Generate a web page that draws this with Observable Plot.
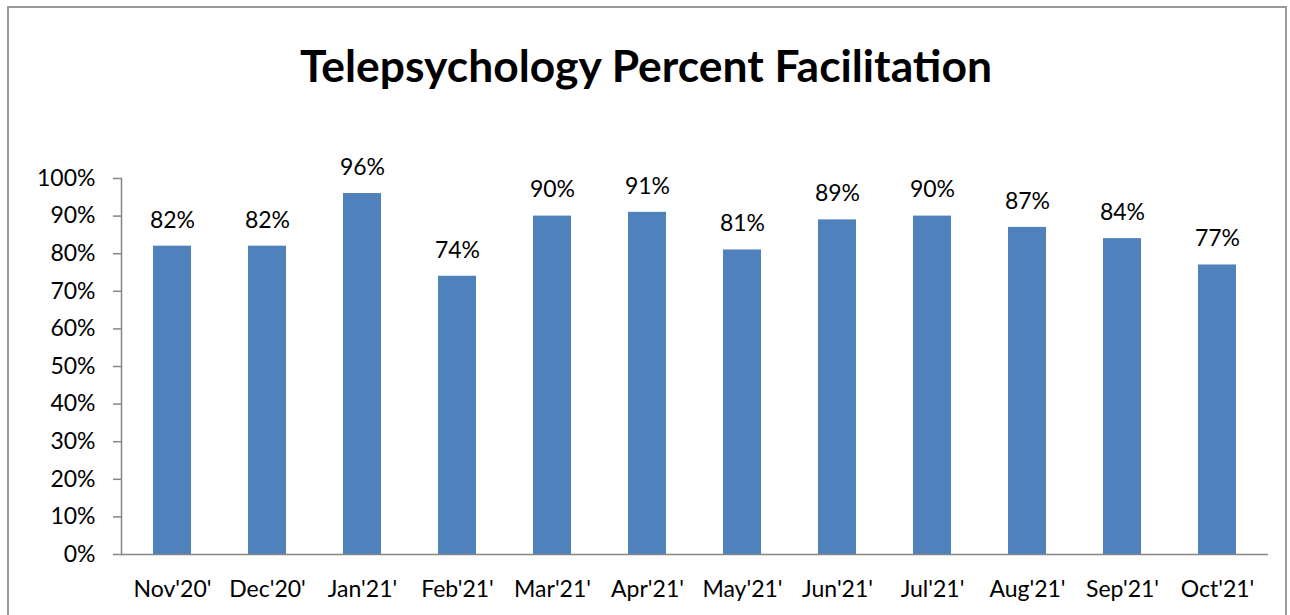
<!DOCTYPE html>
<html>
<head>
<meta charset="utf-8">
<script src="https://cdn.jsdelivr.net/npm/d3@7"></script>
<script src="https://cdn.jsdelivr.net/npm/@observablehq/plot@0.6"></script>
<style>
  html, body { margin: 0; padding: 0; background: #fff; overflow: hidden; }
  #wrap { position: relative; width: 1290px; height: 615px; }
  #frame { position: absolute; left: 7px; top: 6px; width: 1280px; height: 640px;
           border: 2px solid #9a9a9a; box-sizing: border-box; }
  #title { position: absolute; left: 0; top: 0; }
  #chart { position: absolute; left: 0; top: 0; }
</style>
</head>
<body>
<div id="wrap">
  <div id="frame"></div>
  <div id="chart"></div>
  <svg id="title" width="1290" height="110">
    <text x="646" y="82" text-anchor="middle" textLength="692" lengthAdjust="spacingAndGlyphs"
          font-family="Lato, 'Open Sans', sans-serif" font-weight="bold" font-size="44" fill="#000">Telepsychology Percent Facilitation</text>
  </svg>
</div>
<script>
const months = ["Nov'20'", "Dec'20'", "Jan'21'", "Feb'21'", "Mar'21'", "Apr'21'", "May'21'", "Jun'21'", "Jul'21'", "Aug'21'", "Sep'21'", "Oct'21'"];
const percents = [0.82, 0.82, 0.96, 0.74, 0.90, 0.91, 0.81, 0.89, 0.90, 0.87, 0.84, 0.77];
const yTicks = [0, 0.1, 0.2, 0.3, 0.4, 0.5, 0.6, 0.7, 0.8, 0.9, 1.0];

const data = months.map((m, i) => ({month: m, value: percents[i]}));
const axisColor = "#868686";
const fmt = d3.format(".0%");

const plot = Plot.plot({
  width: 1290,
  height: 615,
  marginLeft: 121,
  marginRight: 22,
  marginTop: 178,
  marginBottom: 61,
  style: {fontFamily: "Lato, 'Open Sans', sans-serif", fontSize: "23px", color: "#000", background: "transparent", overflow: "visible"},
  x: {domain: months, paddingInner: 0.6, paddingOuter: 0.3, label: null},
  y: {domain: [0, 1], label: null},
  marks: [
    Plot.barY(data, {x: "month", y: "value", fill: "#4F81BD"}),
    Plot.ruleY([0], {stroke: axisColor, strokeWidth: 1.5}),
    Plot.frame({anchor: "left", stroke: axisColor, strokeWidth: 1.5}),
    Plot.axisY({ticks: yTicks, tickFormat: fmt, tickSize: 8, tickPadding: 18, stroke: axisColor, strokeWidth: 1.5, strokeOpacity: 1, fill: "#000", label: null, fontSize: 23}),
    Plot.axisX({tickSize: 0, tickPadding: 26, label: null, fill: "#000", fontSize: 23}),
    Plot.text(data, {x: "month", y: "value", text: d => fmt(d.value), dy: -26, lineAnchor: "middle", fill: "#000", fontSize: 23})
  ]
});
document.getElementById("chart").appendChild(plot);
</script>
</body>
</html>
